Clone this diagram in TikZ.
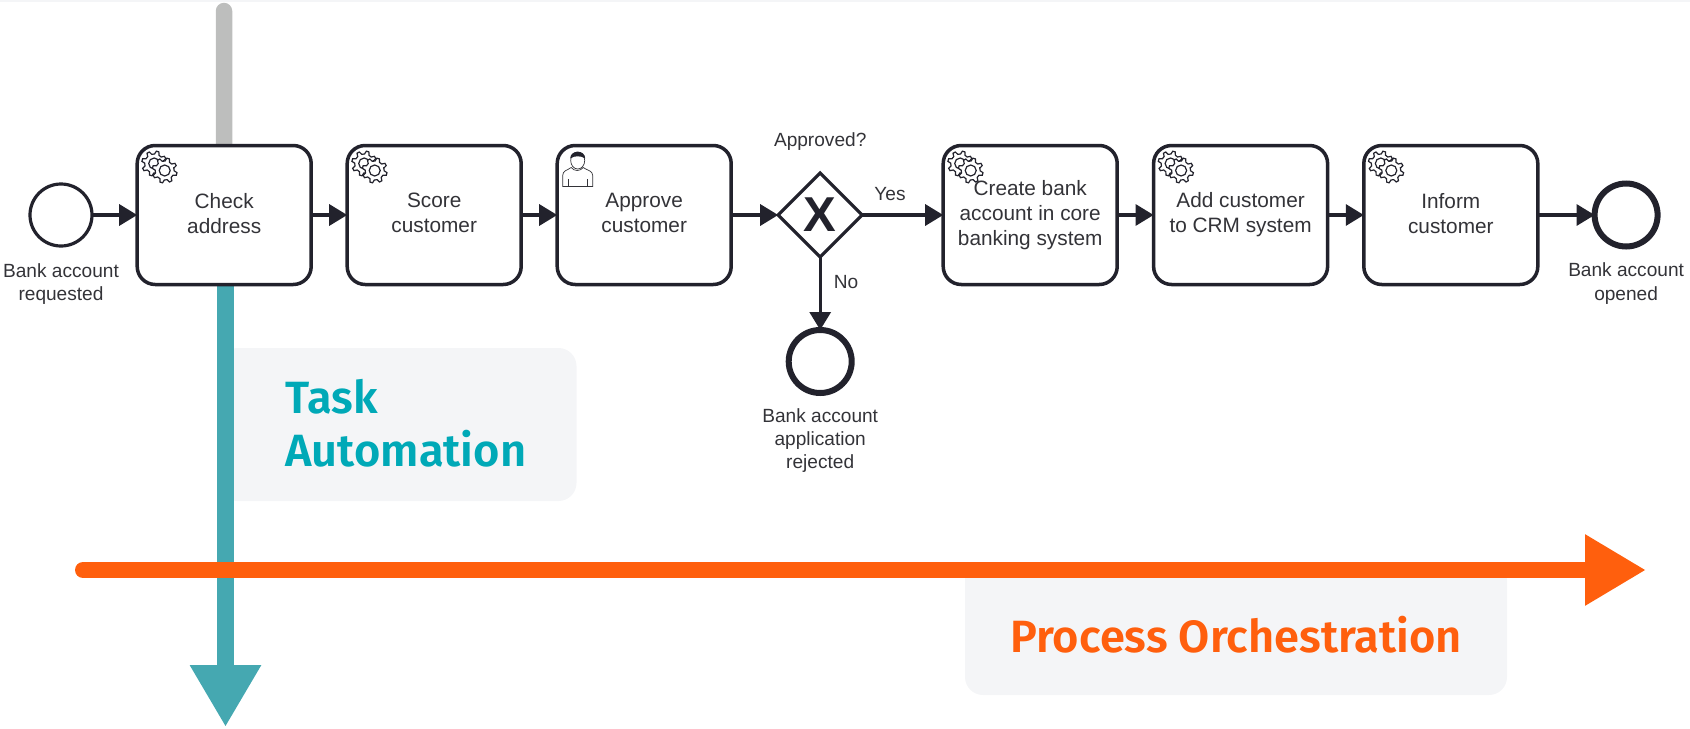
\documentclass[tikz,border=0pt]{standalone}
\usepackage{fontspec}
\setmainfont{Liberation Sans}
\newfontfamily\headfont{Fira Sans SemiBold}
\usetikzlibrary{shapes.geometric, arrows.meta, positioning, backgrounds}
\definecolor{flowdark}{HTML}{22222C}
\definecolor{flowtext}{HTML}{333338}
\definecolor{taskteal}{HTML}{45A8B1}
\definecolor{tasktext}{HTML}{00A9B7}
\definecolor{orchorange}{HTML}{FF5F0D}
\definecolor{panelfill}{HTML}{F4F5F7}
\definecolor{stubgray}{HTML}{BDBEBD}
\newcommand{\boxstrut}{\rule[-2pt]{0pt}{12.5pt}}
\tikzset{
  taskbox/.style={draw=flowdark, fill=white, line width=1.75pt, rounded corners=9pt, minimum width=87pt, minimum height=69.5pt, inner sep=0pt, outer sep=0pt, align=center, text=flowtext, font=\fontsize{10.4}{12.5}\selectfont, execute at begin node=\boxstrut, execute at end node=\boxstrut},
  startevent/.style={circle, draw=flowdark, fill=white, line width=1.6pt, minimum size=31pt, inner sep=0pt, outer sep=0pt},
  endevent/.style={circle, draw=flowdark, fill=white, line width=3pt, minimum size=31.5pt, inner sep=0pt, outer sep=0pt},
  gatebox/.style={diamond, draw=flowdark, fill=white, line width=1.6pt, minimum size=42pt, inner sep=0pt, outer sep=0pt, text=flowdark, font=\fontsize{24.5}{24.5}\selectfont\bfseries},
  flowlabel/.style={align=center, text=flowtext, inner sep=0pt, font=\fontsize{9.55}{11.65}\selectfont},
  flowline/.style={-{Triangle[length=9pt,width=10.5pt]}, draw=flowdark, line width=1.6pt},
  headlabel/.style={align=left, inner sep=0pt, font=\fontsize{22.6}{26.5}\headfont},
  panelbox/.style={fill=panelfill, rounded corners=9pt, inner sep=0pt},
  gearline/.style={draw=flowdark, line width=0.6pt, fill=white},
  servicegear/.pic={
    \draw[gearline] (-20:9.5) \foreach \a in {0,45,...,315} {-- (\a-14+16:9.5) -- (\a-6+16:12.5) -- (\a+6+16:12.5) -- (\a+14+16:9.5)} -- cycle;
    \draw[gearline] (0,0) circle[radius=5.5];
  },
  usericon/.pic={
    \draw[draw=flowtext, line width=0.35pt] (5.5,41) -- (5.5,30) .. controls (5.5,25) and (10,25) .. (14,22) .. controls (17,26) and (23,26) .. (26,22) .. controls (30,25) and (35.5,25) .. (35.5,30) -- (35.5,41) -- cycle;
    \draw[draw=flowtext, line width=0.35pt] (11.5,41) -- (11.5,33) (30.5,41) -- (30.5,33);
    \draw[draw=flowtext, line width=0.35pt, fill=white] (20.5,15) circle[x radius=7, y radius=8.5];
    \fill[flowdark] (13,13) .. controls (13,4) and (28,4) .. (28,13) .. controls (24,10) and (17,10) .. (13,13) -- cycle;
  }
}
\begin{document}
\begin{tikzpicture}[x=0.5pt, y=-0.5pt]
  \useasboundingbox (0,0) rectangle (1690,728);
  \fill[panelfill] (0,0) rectangle (1690,2);

  \node[startevent] (start) at (61,215) {};
  \node[taskbox, right=22.6pt of start] (check) {Check\\address};
  \node[taskbox, right=18pt of check] (score) {Score\\customer};
  \node[taskbox, right=18pt of score] (approve) {Approve\\customer};
  \node[gatebox, right=23.5pt of approve] (gate) {X};
  \node[taskbox, right=40.5pt of gate] (create) {Create bank\\account in core\\banking system};
  \node[taskbox, right=18.2pt of create] (crm) {Add customer\\to CRM system};
  \node[taskbox, right=18.1pt of crm] (inform) {Inform\\customer};
  \node[endevent, right=28.4pt of inform] (opened) {};
  \node[endevent, below=36.5pt of gate] (rejected) {};

  \node[flowlabel, below=8.5pt of start] (startlabel) {Bank account\\requested};
  \node[flowlabel, below=8pt of opened] (openedlabel) {Bank account\\opened};
  \node[flowlabel, below=7.5pt of rejected] (rejectedlabel) {Bank account\\application\\rejected};
  \node[flowlabel, above=11pt of gate] (gatelabel) {Approved?};
  \node[flowlabel] (yeslabel) at (890,194) {Yes};
  \node[flowlabel] (nolabel) at (846,282) {No};

  \draw[flowline] (start) -- (check);
  \draw[flowline] (check) -- (score);
  \draw[flowline] (score) -- (approve);
  \draw[flowline] (approve) -- (gate);
  \draw[flowline] (gate) -- (create);
  \draw[flowline] (gate) -- (rejected);
  \draw[flowline] (create) -- (crm);
  \draw[flowline] (crm) -- (inform);
  \draw[flowline] (inform) -- (opened);

  \foreach \n in {check, score, create, crm, inform} {
    \pic at ([xshift=8.5pt, yshift=-9pt]\n.north west) {servicegear};
    \pic at ([xshift=13.75pt, yshift=-12.5pt]\n.north west) {servicegear};
  }
  \pic at (approve.north west) {usericon};

  \begin{scope}[on background layer]
    \node[panelbox, minimum width=178.5pt, minimum height=76.5pt] (taskpanel) at (398,424.5) {};
    \node[panelbox, minimum width=271pt, minimum height=66.5pt] (orchpanel) at (1236,628.5) {};
    \coordinate (stubtop) at (224,11);
    \coordinate (tasktip) at (225.5,727);
    \coordinate (orchtail) at (83,570);
    \coordinate (orchtip) at (1646,570);
    \draw[stubgray, line width=8.25pt, line cap=round] (check.north) -- (stubtop);
    \draw[taskteal, line width=8.5pt, -{Triangle[length=31pt,width=33.5pt]}] (tasktip |- check.south) -- (tasktip);
    \draw[orchorange, line width=8pt, line cap=round, -{Triangle[length=30.5pt,width=33.5pt]}] (orchtail) -- (orchtip);
  \end{scope}

  \node[headlabel, text=tasktext, anchor=base west] (tasklabel) at (285,466) {Task\\Automation};
  \node[headlabel, text=orchorange, anchor=base] (orchlabel) at (1236,652) {Process Orchestration};
\end{tikzpicture}
\end{document}
